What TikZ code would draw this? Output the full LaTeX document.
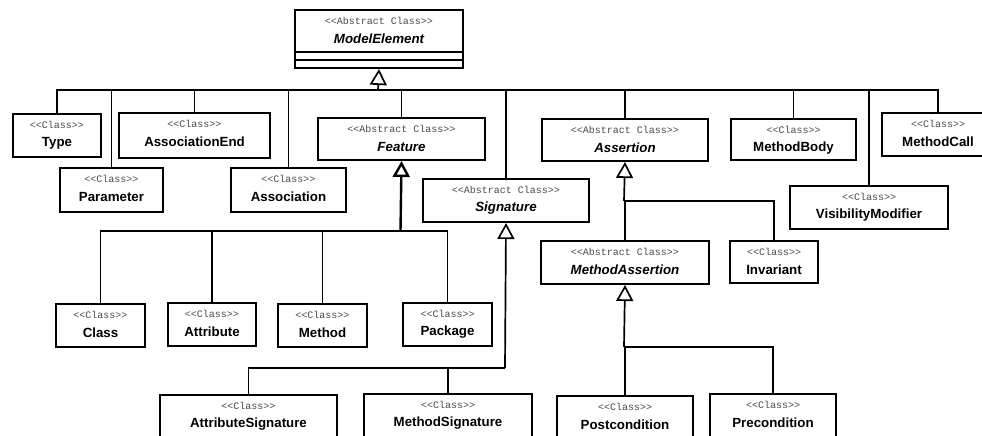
\documentclass[tikz,border=0pt]{standalone}
\usepackage{fontspec}
\setmainfont{Liberation Sans}
\newfontfamily\stereofont{Liberation Mono}
\usetikzlibrary{arrows.meta}

\tikzset{
  classbox/.style={draw, line width=2pt, fill=white, inner sep=0pt, anchor=north west},
  stereo/.style={font=\stereofont\fontsize{10}{12}\selectfont, text=black!70, inner sep=0pt},
  cname/.style={font=\fontsize{13.3}{15}\selectfont\bfseries, inner sep=0pt},
  aname/.style={font=\fontsize{13.3}{15}\selectfont\bfseries\itshape, inner sep=0pt},
  conn/.style={line width=1.7pt},
  gen/.style={line width=1.7pt, -{Triangle[length=16pt,width=17pt,fill=white]}},
  genthick/.style={line width=2.4pt, -{Triangle[length=16pt,width=17pt,fill=white]}}
}

% class box: name, left, top, width, height, stereotype, title, title style
\newcommand\umlclass[8]{%
  \node[classbox, minimum width=#4pt, minimum height=#5pt] (#1) at (#2,#3) {};
  \node[stereo] (#1-st) at ([yshift=-12pt]#1.north) {#6};
  \node[#8] (#1-nm) at ([yshift=-30pt]#1.north) {#7};
}

\begin{document}
\begin{tikzpicture}[x=1pt, y=-1pt]
\clip (0,0) rectangle (982,436);
\fill[white] (0,0) rectangle (982,436);

% root
\umlclass{model}{294}{9}{168}{58}{<<Abstract Class>>}{ModelElement}{aname}
\draw[line width=2pt] ([yshift=-43pt]model.north west) -- ([yshift=-43pt]model.north east);
\draw[line width=2pt] ([yshift=-51pt]model.north west) -- ([yshift=-51pt]model.north east);

% first level
\umlclass{type}{12}{113}{88}{43}{<<Class>>}{Type}{cname}
\umlclass{parameter}{59}{167}{103}{44}{<<Class>>}{Parameter}{cname}
\umlclass{assocend}{118}{112}{151}{45}{<<Class>>}{AssociationEnd}{cname}
\umlclass{association}{230}{167}{115}{44}{<<Class>>}{Association}{cname}
\umlclass{feature}{317}{117}{167}{42}{<<Abstract Class>>}{Feature}{aname}
\umlclass{signature}{422}{178}{166}{43}{<<Abstract Class>>}{Signature}{aname}
\umlclass{assertion}{541}{118}{166}{42}{<<Abstract Class>>}{Assertion}{aname}
\umlclass{methodbody}{730}{118}{125}{41}{<<Class>>}{MethodBody}{cname}
\umlclass{visibility}{789}{185}{158}{43}{<<Class>>}{VisibilityModifier}{cname}
\umlclass{methodcall}{881}{112}{112}{43}{<<Class>>}{MethodCall}{cname}

% features
\umlclass{class}{55}{303}{89}{43}{<<Class>>}{Class}{cname}
\umlclass{attribute}{167}{302}{88}{43}{<<Class>>}{Attribute}{cname}
\umlclass{method}{277}{303}{89}{43}{<<Class>>}{Method}{cname}
\umlclass{package}{402}{302}{89}{43}{<<Class>>}{Package}{cname}

% signatures
\umlclass{attrsig}{159}{394}{177}{44}{<<Class>>}{AttributeSignature}{cname}
\umlclass{methsig}{363}{393}{168}{44}{<<Class>>}{MethodSignature}{cname}

% assertions
\umlclass{methassert}{540}{240}{168}{43}{<<Abstract Class>>}{MethodAssertion}{aname}
\umlclass{invariant}{729}{240}{88}{42}{<<Class>>}{Invariant}{cname}
\umlclass{postcond}{556}{395}{136}{44}{<<Class>>}{Postcondition}{cname}
\umlclass{precond}{709}{393}{126}{44}{<<Class>>}{Precondition}{cname}

% junction points of the generalization trees
\coordinate (mej) at (378,90);
\coordinate (fej) at (400.5,231);
\coordinate (sij) at (505,368);
\coordinate (asj) at (624,201);
\coordinate (maj) at (624,347);

% ModelElement subclasses
\foreach \c in {type,parameter,assocend,association,feature,signature,assertion,methodbody,visibility,methodcall}
  \draw[conn] (\c.north) |- (mej);
\draw[gen] (mej) -- (model.south);

% Feature subclasses
\foreach \c in {class,attribute,method,package}
  \draw[conn] (\c.north) |- (fej);
\draw[genthick] (fej) -- (feature.south);

% Signature subclasses
\foreach \c in {attrsig,methsig}
  \draw[conn] (\c.north) |- (sij);
\draw[gen] (sij) -- (signature.south);

% Assertion subclasses
\foreach \c in {methassert,invariant}
  \draw[conn] (\c.north) |- (asj);
\draw[gen] (asj) -- (assertion.south);

% MethodAssertion subclasses
\foreach \c in {postcond,precond}
  \draw[conn] (\c.north) |- (maj);
\draw[gen] (maj) -- (methassert.south);
\end{tikzpicture}
\end{document}
